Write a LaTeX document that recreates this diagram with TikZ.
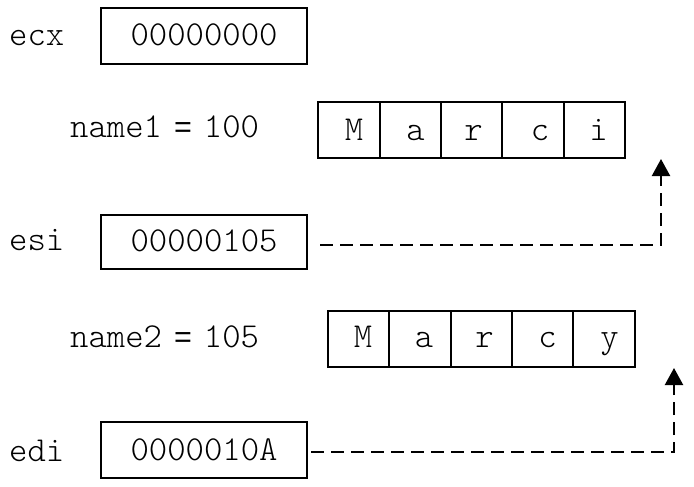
\documentclass[tikz,border=0pt]{standalone}
\usepackage{fontspec}
\setsansfont{Liberation Sans}
\setmonofont{Latin Modern Mono Light}
\usetikzlibrary{arrows.meta}
\begin{document}
\begin{tikzpicture}[x=1pt,y=-1pt,
  txt/.style={font=\ttfamily\fontsize{35}{40}\selectfont, inner sep=0pt},
  regbox/.style={txt, draw, line width=2pt, minimum width=206pt, minimum height=56pt, text height=38pt, text depth=18pt},
  cell/.style={txt, draw, line width=2pt, minimum height=56pt, text height=38pt, text depth=18pt},
  lbl/.style={txt, anchor=base west},
  eqs/.style={},
  ptr/.style={line width=2.2pt, dash pattern=on 13pt off 7pt, -{Triangle[length=17pt,width=18pt]}}
]
\useasboundingbox (0,0) rectangle (694,487);

% registers
\node[lbl] (lecx) at (9,46) {ecx};
\node[regbox] (ecx) at (204,36) {00000000};
\node[lbl] (lesi) at (9,250) {esi};
\node[regbox, minimum height=54pt, text height=36pt] (esi) at (204,242) {00000105};
\node[lbl] (ledi) at (9,461) {edi};
\node[regbox] (edi) at (204,450) {0000010A};

% name1
\node[lbl] (n1) at (70,137) {name1{\fontsize{30.5}{36}\sffamily\hspace{12pt}=\hspace{12pt}}100};
\node[cell, minimum width=62pt] (a1) at (349,130) {\hspace*{10pt}M};
\node[cell, minimum width=61pt] (a2) at (410.5,130) {\hspace*{10pt}a};
\node[cell, minimum width=61pt] (a3) at (471.5,130) {\hspace*{4pt}r};
\node[cell, minimum width=62pt] (a4) at (533,130) {\hspace*{14pt}c};
\node[cell, minimum width=61pt] (a5) at (594.5,130) {\hspace*{8pt}i};

% name2
\node[lbl] (n2) at (70,347) {name2{\fontsize{30.5}{36}\sffamily\hspace{12pt}=\hspace{12pt}}105};
\node[cell, minimum width=61pt, text height=36pt, text depth=20pt] (b1) at (358.5,339) {\hspace*{9pt}M};
\node[cell, minimum width=62pt, text height=36pt, text depth=20pt] (b2) at (420,339) {\hspace*{8pt}a};
\node[cell, minimum width=61pt, text height=36pt, text depth=20pt] (b3) at (481.5,339) {\hspace*{6pt}r};
\node[cell, minimum width=61pt, text height=36pt, text depth=20pt] (b4) at (542.5,339) {\hspace*{10pt}c};
\node[cell, minimum width=62pt, text height=36pt, text depth=20pt] (b5) at (604,339) {\hspace*{11pt}y};

% pointers
\coordinate (p1) at (661,159);
\coordinate (p2) at (674,368);
\draw[ptr] ([shift={(12,3)}]esi.east) -| (p1);
\draw[ptr] ([shift={(3,2)}]edi.east) -| (p2);
\end{tikzpicture}
\end{document}
